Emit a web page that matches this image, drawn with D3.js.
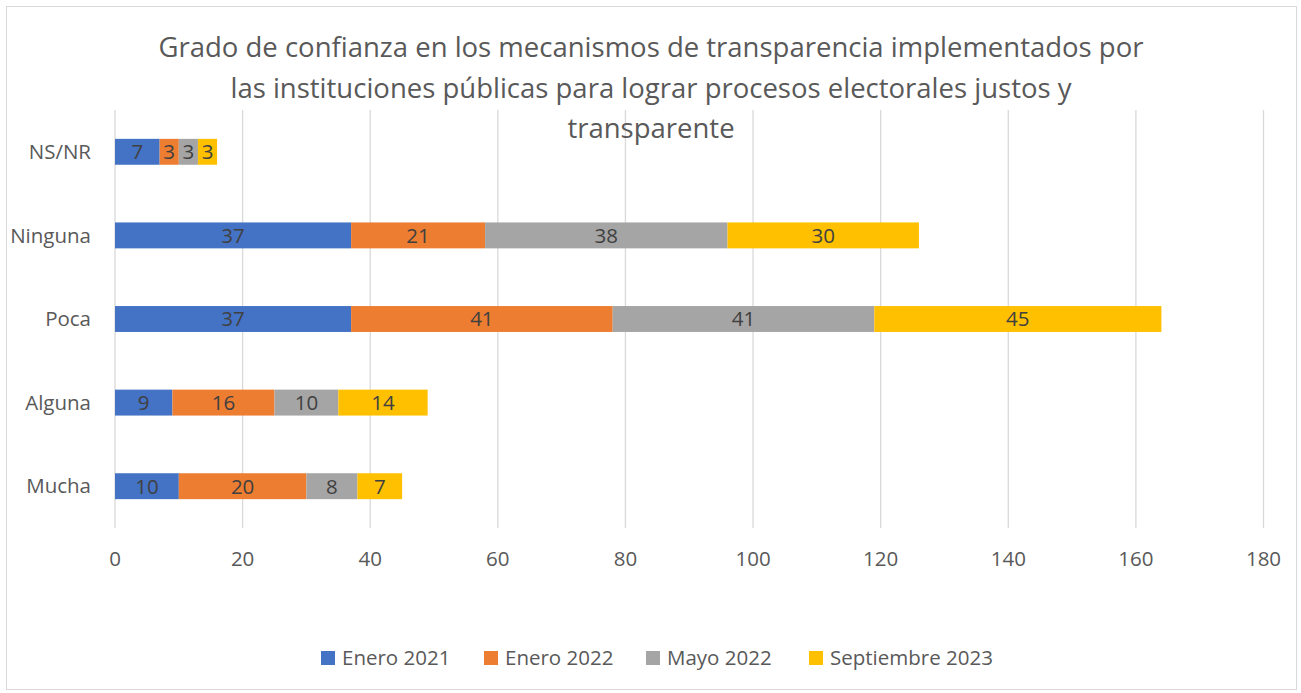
<!DOCTYPE html>
<html>
<head>
<meta charset="utf-8">
<script src="https://cdn.jsdelivr.net/npm/d3@7"></script>
<style>
  body { margin: 0; background: #fff; }
  svg text { font-family: "Open Sans", sans-serif; }
</style>
</head>
<body>
<svg id="chart" width="1301" height="693"></svg>
<script>
var categories = ["NS/NR", "Ninguna", "Poca", "Alguna", "Mucha"];
var seriesNames = ["Enero 2021", "Enero 2022", "Mayo 2022", "Septiembre 2023"];
var enero2021 = [7, 37, 37, 9, 10];
var enero2022 = [3, 21, 41, 16, 20];
var mayo2022 = [3, 38, 41, 10, 8];
var sept2023 = [3, 30, 45, 14, 7];
var tickValues = [0, 20, 40, 60, 80, 100, 120, 140, 160, 180];
var titleLines = ["Grado de confianza en los mecanismos de transparencia implementados por",
                  "las instituciones públicas para lograr procesos electorales justos y",
                  "transparente"];

var colors = ["#4472C4", "#ED7D31", "#A5A5A5", "#FFC000"];
var allSeries = [enero2021, enero2022, mayo2022, sept2023];

var rows = categories.map(function(c, i) {
  var r = {cat: c};
  seriesNames.forEach(function(s, j) { r[s] = allSeries[j][i]; });
  return r;
});

var svg = d3.select("svg#chart");

// outer border
svg.append("rect")
  .attr("x", 6.5).attr("y", 6.5)
  .attr("width", 1290).attr("height", 683)
  .attr("fill", "#fff")
  .attr("stroke", "#d9d9d9");

var x = d3.scaleLinear().domain([0, 180]).range([115, 1263.5]);
var y = d3.scaleBand().domain(categories).range([110, 528]).paddingInner(0.69).paddingOuter(0.345);

// gridlines
svg.append("g").selectAll("line").data(tickValues)
  .enter().append("line")
  .attr("x1", d => x(d)).attr("x2", d => x(d))
  .attr("y1", 110).attr("y2", 528)
  .attr("stroke", "#d9d9d9").attr("stroke-width", 1.3);

// x tick labels
svg.append("g").selectAll("text").data(tickValues)
  .enter().append("text")
  .attr("x", d => x(d)).attr("y", 566)
  .attr("text-anchor", "middle")
  .attr("font-size", 20.5)
  .attr("fill", "#595959")
  .text(d => d);

// category labels
svg.append("g").selectAll("text").data(categories)
  .enter().append("text")
  .attr("x", 91).attr("y", d => y(d) + y.bandwidth() / 2)
  .attr("dy", "0.35em")
  .attr("text-anchor", "end")
  .attr("font-size", 20.5)
  .attr("fill", "#595959")
  .text(d => d);

var stack = d3.stack().keys(seriesNames);
var stacked = stack(rows);

var layers = svg.append("g").selectAll("g.layer").data(stacked)
  .enter().append("g")
  .attr("class", "layer")
  .attr("fill", (d, i) => colors[i]);

layers.selectAll("rect").data(d => d)
  .enter().append("rect")
  .attr("x", d => x(d[0]))
  .attr("y", d => y(d.data.cat))
  .attr("width", d => x(d[1]) - x(d[0]))
  .attr("height", y.bandwidth());

layers.selectAll("text").data(d => d)
  .enter().append("text")
  .attr("x", d => (x(d[0]) + x(d[1])) / 2)
  .attr("y", d => y(d.data.cat) + y.bandwidth() / 2)
  .attr("dy", "0.36em")
  .attr("text-anchor", "middle")
  .attr("font-size", 20.5)
  .attr("fill", "#404040")
  .text(d => d[1] - d[0]);

// title
svg.append("g").selectAll("text").data(titleLines)
  .enter().append("text")
  .attr("x", 651)
  .attr("y", (d, i) => 57 + i * 40.5)
  .attr("text-anchor", "middle")
  .attr("font-size", 27.5)
  .attr("fill", "#595959")
  .text(d => d);

// legend
var legendX = [321, 484, 646, 809];
var legend = svg.append("g").selectAll("g").data(seriesNames)
  .enter().append("g")
  .attr("transform", (d, i) => "translate(" + legendX[i] + ",651)");

legend.append("rect")
  .attr("width", 14).attr("height", 14)
  .attr("fill", (d, i) => colors[i]);

legend.append("text")
  .attr("x", 21).attr("y", 7)
  .attr("dy", "0.36em")
  .attr("font-size", 20.5)
  .attr("fill", "#595959")
  .text(d => d);
</script>
</body>
</html>
